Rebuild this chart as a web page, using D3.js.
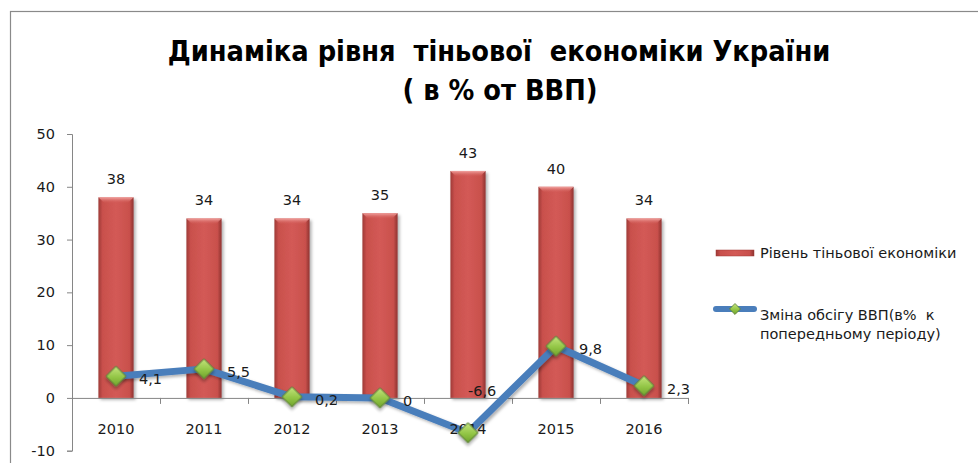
<!DOCTYPE html>
<html>
<head>
<meta charset="utf-8">
<script src="https://cdn.jsdelivr.net/npm/d3@7"></script>
<style>
  html, body { margin: 0; padding: 0; background: #fff; }
  svg { display: block; }
</style>
</head>
<body>
<svg id="chart" width="978" height="463"></svg>
<script>
const years = ["2010", "2011", "2012", "2013", "2014", "2015", "2016"];
const shadowLevel = [38, 34, 34, 35, 43, 40, 34];
const gdpChange = [4.1, 5.5, 0.2, 0, -6.6, 9.8, 2.3];
const yTicks = [-10, 0, 10, 20, 30, 40, 50];
const titleLines = ["Динаміка рівня  тіньової  економіки України", "( в % от ВВП)"];
const legendBar = "Рівень тіньової економіки";
const legendLine = ["Зміна обсігу ВВП(в%  к", "попередньому періоду)"];

const fmt = v => String(v).replace(".", ",");
const labelFont = "'DejaVu Sans', sans-serif";
const labelSize = 14.5;

const svg = d3.select("#chart");
const defs = svg.append("defs");

// gradients
const bg = defs.append("linearGradient").attr("id", "barGrad").attr("x1", "0").attr("x2", "1").attr("y1", "0").attr("y2", "0");
bg.append("stop").attr("offset", "0%").attr("stop-color", "#9e3a37");
bg.append("stop").attr("offset", "12%").attr("stop-color", "#c9504c");
bg.append("stop").attr("offset", "50%").attr("stop-color", "#d35a56");
bg.append("stop").attr("offset", "88%").attr("stop-color", "#c9504c");
bg.append("stop").attr("offset", "100%").attr("stop-color", "#8e3330");

const tg = defs.append("linearGradient").attr("id", "topGrad").attr("x1", "0").attr("x2", "0").attr("y1", "0").attr("y2", "1");
tg.append("stop").attr("offset", "0%").attr("stop-color", "#f2a5a2").attr("stop-opacity", 1);
tg.append("stop").attr("offset", "100%").attr("stop-color", "#d35a56").attr("stop-opacity", 0);

const gg = defs.append("linearGradient").attr("id", "greenGrad").attr("x1", "0").attr("x2", "1").attr("y1", "0").attr("y2", "1");
gg.append("stop").attr("offset", "0%").attr("stop-color", "#c4e47f");
gg.append("stop").attr("offset", "55%").attr("stop-color", "#92c545");
gg.append("stop").attr("offset", "100%").attr("stop-color", "#6fa22c");

const sh = defs.append("filter").attr("id", "shadow").attr("x", "-30%").attr("y", "-30%").attr("width", "160%").attr("height", "160%");
sh.append("feDropShadow").attr("dx", 2).attr("dy", 2).attr("stdDeviation", 1.5).attr("flood-color", "#000").attr("flood-opacity", 0.3);

// frame
svg.append("rect").attr("x", 10.5).attr("y", 11.5).attr("width", 1100).attr("height", 600)
  .attr("fill", "none").attr("stroke", "#8a8a8a").attr("stroke-width", 1.2);

// title
const title = svg.append("text").attr("text-anchor", "middle")
  .attr("font-family", "'Liberation Sans Narrow', 'DejaVu Sans Condensed', sans-serif").attr("font-weight", "bold")
  .attr("font-size", 28).attr("fill", "#000").style("white-space", "pre");
const t1 = title.append("tspan").attr("x", 499).attr("y", 61).text(titleLines[0]);
title.append("tspan").attr("x", 500).attr("y", 100).text(titleLines[1]);
const len = t1.node().getComputedTextLength();
if (len > 0) title.attr("font-size", 28 * 663 / len);

// scales
const x = d3.scaleBand().domain(years).range([72, 688]).paddingInner(0.6).paddingOuter(0.3);
const y = d3.scaleLinear().domain([-10, 50]).range([450.7, 134]);
const cx = d => x(d) + x.bandwidth() / 2;

// y axis
const yAxis = svg.append("g").attr("transform", "translate(72,0)")
  .call(d3.axisLeft(y).tickValues(yTicks).tickSize(5).tickPadding(12).tickFormat(d => d));
yAxis.select(".domain").attr("stroke", "#868686");
yAxis.selectAll(".tick line").attr("stroke", "#868686");
yAxis.selectAll("text").attr("font-family", labelFont).attr("font-size", labelSize).attr("fill", "#1a1a1a");

// bars
const bars = svg.append("g");
bars.selectAll("rect.bar").data(years).join("rect").attr("class", "bar")
  .attr("x", d => x(d)).attr("width", x.bandwidth())
  .attr("y", (d, i) => y(shadowLevel[i])).attr("height", (d, i) => y(0) - y(shadowLevel[i]))
  .attr("fill", "url(#barGrad)").attr("filter", "url(#shadow)");
bars.selectAll("path.bevel").data(years).join("path").attr("class", "bevel")
  .attr("d", (d, i) => {
    const x0 = x(d), w = x.bandwidth(), t = y(shadowLevel[i]);
    return `M${x0},${t}L${x0 + w},${t}L${x0 + w - 6},${t + 6}L${x0 + 6},${t + 6}Z`;
  })
  .attr("fill", "url(#topGrad)");

// x axis line + boundary ticks
const xb = d3.scaleLinear().domain([0, years.length]).range([72, 688]);
const xAxisTicks = svg.append("g").attr("transform", `translate(0,${y(0)})`)
  .call(d3.axisBottom(xb).tickValues(d3.range(1, years.length + 1)).tickSize(6).tickFormat(""));
xAxisTicks.select(".domain").attr("stroke", "#868686");
xAxisTicks.selectAll(".tick line").attr("stroke", "#868686");

// bar labels
svg.append("g").selectAll("text").data(years).join("text")
  .attr("x", d => cx(d)).attr("y", (d, i) => y(shadowLevel[i]) - 13)
  .attr("text-anchor", "middle").attr("font-family", labelFont).attr("font-size", labelSize).attr("fill", "#1a1a1a")
  .text((d, i) => shadowLevel[i]);

// line
const line = d3.line().x(d => cx(d)).y((d, i) => y(gdpChange[i]));
svg.append("path").datum(years).attr("d", line)
  .attr("fill", "none").attr("stroke", "#4a7ebb").attr("stroke-width", 7)
  .attr("stroke-linejoin", "round").attr("filter", "url(#shadow)");

// x axis labels (drawn over the line, under the markers)
const xAxisLabels = svg.append("g").attr("transform", `translate(0,${y(0)})`)
  .call(d3.axisBottom(x).tickSize(0).tickPadding(26));
xAxisLabels.select(".domain").remove();
xAxisLabels.selectAll("text").attr("font-family", labelFont).attr("font-size", labelSize).attr("fill", "#1a1a1a");

// markers
const diamond = d3.symbol().type(d3.symbolSquare).size(200);
svg.append("g").selectAll("path").data(years).join("path")
  .attr("d", diamond)
  .attr("transform", (d, i) => `translate(${cx(d)},${y(gdpChange[i])}) rotate(45)`)
  .attr("fill", "url(#greenGrad)").attr("stroke", "#5d7f3a").attr("stroke-width", 1)
  .attr("filter", "url(#shadow)");

// line labels
svg.append("g").selectAll("text").data(years).join("text")
  .attr("x", d => cx(d))
  .attr("dx", (d, i) => gdpChange[i] < 0 ? 0 : 23)
  .attr("y", (d, i) => gdpChange[i] < 0 ? y(0) - 7 : y(gdpChange[i]) + 3)
  .attr("dy", "0.35em")
  .attr("font-family", labelFont).attr("font-size", labelSize).attr("fill", "#1a1a1a")
  .text((d, i) => fmt(gdpChange[i]));

// legend
const lg = svg.append("g");
lg.append("rect").attr("x", 716).attr("y", 250).attr("width", 38).attr("height", 6)
  .attr("fill", "url(#barGrad)").attr("stroke", "#9e3a37").attr("stroke-width", 0.5);
lg.append("text").attr("x", 760).attr("y", 253).attr("dy", "0.35em")
  .attr("font-family", labelFont).attr("font-size", labelSize).attr("fill", "#1a1a1a").text(legendBar);
lg.append("line").attr("x1", 716).attr("x2", 754).attr("y1", 309).attr("y2", 309)
  .attr("stroke", "#4a7ebb").attr("stroke-width", 6).attr("stroke-linecap", "round");
lg.append("path").attr("d", d3.symbol().type(d3.symbolSquare).size(60))
  .attr("transform", "translate(735,309) rotate(45)")
  .attr("fill", "url(#greenGrad)").attr("stroke", "#5d7f3a").attr("stroke-width", 0.8);
const lt = lg.append("text").attr("font-family", labelFont).attr("font-size", labelSize).attr("fill", "#1a1a1a")
  .style("white-space", "pre");
lt.append("tspan").attr("x", 760).attr("y", 315).attr("dy", "0.35em").text(legendLine[0]);
lt.append("tspan").attr("x", 760).attr("y", 334).attr("dy", "0.35em").text(legendLine[1]);
</script>
</body>
</html>
